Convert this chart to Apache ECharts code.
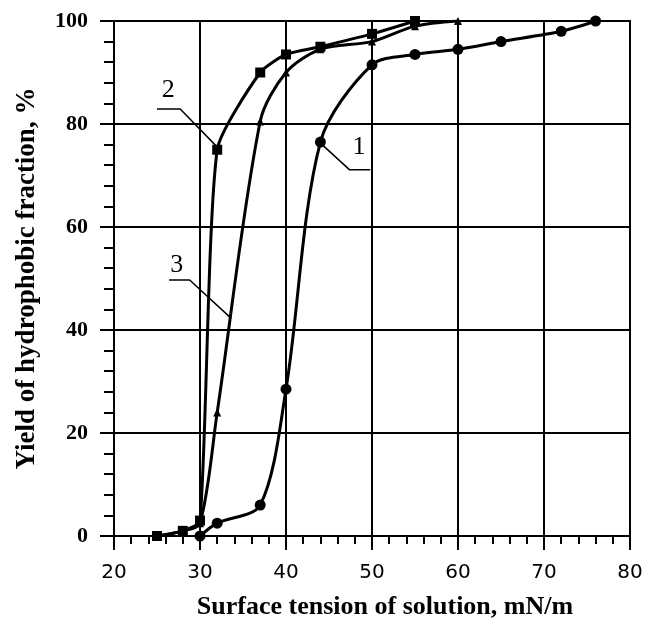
<!DOCTYPE html>
<html><head><meta charset="utf-8">
<script src="https://cdn.jsdelivr.net/npm/echarts@6/dist/echarts.min.js"></script>
<style>html,body{margin:0;padding:0;background:#fff}#c{width:646px;height:634px}</style>
</head><body><div id="c"></div>
<script>
// Data
const curve1 = [[30,0],[32,2.5],[37,6],[40,28.5],[44,76.5],[50,91.5],[55,93.5],[60,94.5],[65,96],[72,98],[76,100]];
const curve2 = [[25,0],[28,1],[30,3],[32,75],[37,90],[40,93.5],[44,95],[50,97.5],[55,100]];
const curve3 = [[25,0],[28,1],[30,2.5],[32,24],[37,80.5],[40,90],[44,94.5],[50,96],[55,99],[60,100]];
// Curve labels with leader lines (annotation)
const leader1 = [[44.2,76],[47.4,71.1],[49.8,71.1]];
const leader2 = [[31.9,75.7],[27.7,82.9],[25,82.9]];
const leader3 = [[33.6,42.3],[28.8,49.7],[26.4,49.7]];
const curveLabels = [['1',48.5,75.5],['2',26.3,86.6],['3',27.3,52.6]];
const xTickLabels = [20,30,40,50,60,70,80];
const yTickLabels = [0,20,40,60,80,100];

const chart = echarts.init(document.getElementById('c'), null, {renderer:'canvas'});
const black = '#000';
function curve(data, symbol, size, sm){
  return {type:'line', data, smooth:sm, symbol, symbolSize:size, showSymbol:true,
    lineStyle:{color:black,width:3}, itemStyle:{color:black}, z:5, silent:true};
}
function leader(data){
  return {type:'line', data, symbol:'none', smooth:false, lineStyle:{color:black,width:1.5}, z:4, silent:true};
}
chart.setOption({
  animation:false,
  backgroundColor:'#fff',
  grid:{left:114, right:16, top:21, bottom:98, show:true, borderColor:black, borderWidth:2},
  xAxis:{type:'value', min:xTickLabels[0], max:xTickLabels[xTickLabels.length-1], interval:10,
    name:'Surface tension of solution, mN/m', nameLocation:'middle', nameGap:58,
    nameTextStyle:{fontFamily:'Liberation Serif', fontWeight:'bold', fontSize:26, color:black, padding:[0,0,0,26]},
    axisLine:{lineStyle:{color:black,width:2}},
    axisTick:{length:14, lineStyle:{color:black,width:2}},
    minorTick:{show:true, splitNumber:5, length:8, lineStyle:{color:black,width:2}},
    axisLabel:{color:black, fontFamily:'DejaVu Sans', fontSize:20, margin:27},
    splitLine:{show:true, lineStyle:{color:black,width:2}}},
  yAxis:{type:'value', min:yTickLabels[0], max:yTickLabels[yTickLabels.length-1], interval:20,
    name:'Yield of hydrophobic fraction, %', nameLocation:'middle', nameGap:73,
    nameTextStyle:{fontFamily:'Liberation Serif', fontWeight:'bold', fontSize:27, color:black},
    axisLine:{lineStyle:{color:black,width:2}},
    axisTick:{length:14, lineStyle:{color:black,width:2}},
    minorTick:{show:true, splitNumber:5, length:10, lineStyle:{color:black,width:2}},
    axisLabel:{color:black, fontFamily:'Liberation Serif', fontWeight:'bold', fontSize:22, margin:26},
    splitLine:{show:true, lineStyle:{color:black,width:2}}},
  series:[
    curve(curve1,'circle',11,0.3),
    curve(curve2,'rect',10,0.2),
    curve(curve3,'triangle',8,0.3),
    leader(leader1), leader(leader2), leader(leader3)
  ]
});
const g = curveLabels.map(([t,x,y])=>{
  const p = chart.convertToPixel({gridIndex:0},[x,y]);
  return {type:'text', x:p[0], y:p[1], z:10, style:{text:t, fill:black, font:'26px "Liberation Serif"', textAlign:'center', textVerticalAlign:'middle'}};
});
chart.setOption({graphic:g});
</script></body></html>
